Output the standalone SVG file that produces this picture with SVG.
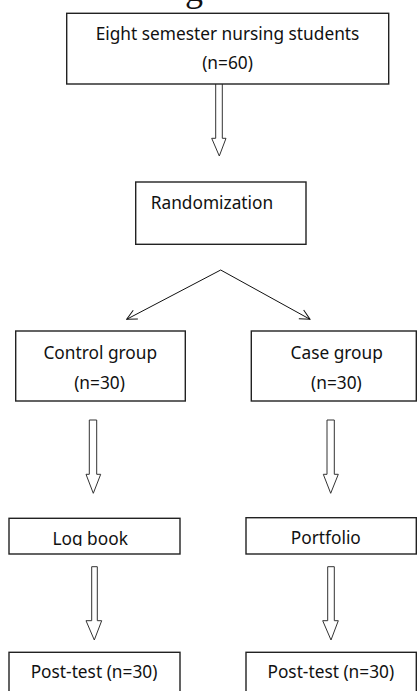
<svg xmlns="http://www.w3.org/2000/svg" width="417" height="691" viewBox="0 0 417 691">
<style>
.box{fill:#fff;stroke:#222;stroke-width:1.4}
.t{font-family:"Noto Sans","Open Sans",sans-serif;font-size:17.3px;fill:#111}
.blk{fill:#fff;stroke:#333;stroke-width:1}
.ln{fill:none;stroke:#111;stroke-width:1}
</style>
<defs>
<marker id="open" viewBox="0 0 12 12" refX="11" refY="6" markerWidth="12" markerHeight="12" markerUnits="userSpaceOnUse" orient="auto">
<path d="M1,1 L11,6 L1,11" fill="none" stroke="#111" stroke-width="1"/>
</marker>
<clipPath id="clipLog"><rect x="9" y="518" width="171" height="28"/></clipPath>
</defs>
<rect width="417" height="691" fill="#fff"/>
<text x="194" y="1" font-family="Liberation Serif, serif" font-size="36" fill="#111" text-anchor="middle">g</text>
<g id="connectors">
<path class="blk" d="M215.7,84 V138.3 H211.7 L219.3,156 L226,138.3 H222.3 V84"/>
<path class="ln" d="M220.7,270 L126.7,319.3" marker-end="url(#open)"/>
<path class="ln" d="M220.7,270 L310,319.3" marker-end="url(#open)"/>
<path class="blk" d="M89.3,420 V474.3 H86 L93.3,493.3 L100.7,474.3 H96.7 V420 Z"/>
<path class="blk" d="M327,420 V474.3 H323.3 L330.7,493.3 L338.3,474.3 H334.3 V420 Z"/>
<path class="blk" d="M91.7,566.7 V620.7 H86 L94.3,640 L101.7,620.7 H97.3 V566.7 Z"/>
<path class="blk" d="M327.7,566.7 V620.7 H322.7 L331,640 L338.3,620.7 H334.3 V566.7 Z"/>
</g>
<g id="students">
<rect class="box" x="66.7" y="13.3" width="322" height="70.7"/>
<text class="t" x="227.5" y="40" text-anchor="middle">Eight semester nursing students</text>
<text class="t" x="227.5" y="69" text-anchor="middle">(n=60)</text>
</g>
<g id="randomization">
<rect class="box" x="135.7" y="182" width="170.3" height="62.3"/>
<text class="t" x="150.7" y="209">Randomization</text>
</g>
<g id="control">
<rect class="box" x="15.7" y="331" width="169.6" height="70"/>
<text class="t" x="100.3" y="359" text-anchor="middle">Control group</text>
<text class="t" x="99.5" y="389" text-anchor="middle">(n=30)</text>
</g>
<g id="case">
<rect class="box" x="251.3" y="331" width="165" height="70"/>
<text class="t" x="336.7" y="359" text-anchor="middle">Case group</text>
<text class="t" x="336.4" y="389" text-anchor="middle">(n=30)</text>
</g>
<g id="logbook">
<rect class="box" x="9" y="518.3" width="171" height="35.7"/>
<text class="t" x="90.2" y="545" text-anchor="middle" clip-path="url(#clipLog)">Log book</text>
</g>
<g id="portfolio">
<rect class="box" x="246" y="517.7" width="170.3" height="36.3"/>
<text class="t" x="325.8" y="544.3" text-anchor="middle">Portfolio</text>
</g>
<g id="posttest-control">
<rect class="box" x="9" y="652.3" width="171" height="50"/>
<text class="t" x="94" y="678" text-anchor="middle">Post-test (n=30)</text>
</g>
<g id="posttest-case">
<rect class="box" x="246" y="652.3" width="170.3" height="50"/>
<text class="t" x="330.8" y="678" text-anchor="middle">Post-test (n=30)</text>
</g>
</svg>
